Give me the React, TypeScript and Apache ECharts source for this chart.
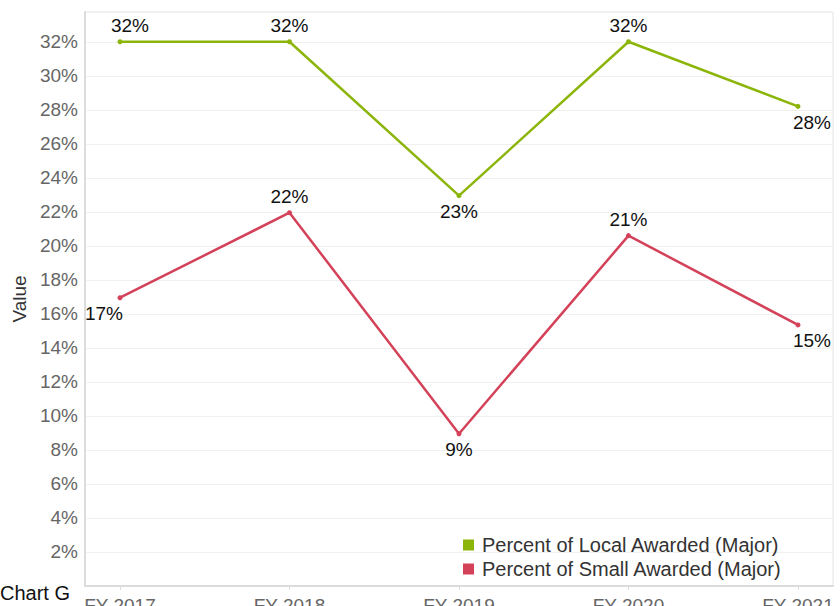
import React, { useEffect, useRef } from "react";
import * as echarts from "echarts";

const categories = ["FY 2017", "FY 2018", "FY 2019", "FY 2020", "FY 2021"];
const localAwarded = [32.0, 32.0, 22.95, 32.0, 28.2];
const smallAwarded = [16.95, 21.95, 8.95, 20.6, 15.35];
const localLabels = ["32%", "32%", "23%", "32%", "28%"];
const smallLabels = ["17%", "22%", "9%", "21%", "15%"];
const localLabelPos = ["top", "top", "bottom", "top", "bottom"];
const smallLabelPos = ["bottom", "top", "bottom", "top", "bottom"];
const localLabelShift = [10, 0, 0, 0, 14];
const smallLabelShift = [-16, 0, 0, 0, 14];

const FONT = "'Liberation Sans', Arial, sans-serif";

function buildData(values: number[], labels: string[], pos: string[], shift: number[]) {
  return values.map((v, i) => ({
    value: [i, v],
    label: {
      show: true,
      position: pos[i],
      distance: 4,
      offset: [shift[i], 0],
      formatter: labels[i],
      fontSize: 19,
      color: "#111",
      fontFamily: FONT,
    },
  }));
}

export default function App() {
  const ref = useRef<HTMLDivElement>(null);
  useEffect(() => {
    document.body.style.margin = "0";
    const chart = echarts.init(ref.current!, null, { renderer: "svg" });
    chart.setOption({
      animation: false,
      backgroundColor: "#fff",
      textStyle: { fontFamily: FONT },
      grid: {
        left: 85,
        right: 7,
        top: 12,
        bottom: 20,
        outerBoundsMode: "none",
        containLabel: false,
        show: true,
        borderColor: "#e4e4e4",
        borderWidth: 1,
      },
      legend: {
        orient: "vertical",
        left: 463,
        top: 535,
        padding: 0,
        icon: "rect",
        itemWidth: 11,
        itemHeight: 11,
        itemGap: 4,
        textStyle: { fontSize: 20, color: "#333", fontFamily: FONT, padding: [0, 0, 0, 3] },
        data: ["Percent of Local Awarded (Major)", "Percent of Small Awarded (Major)"],
      },
      xAxis: {
        type: "value",
        min: -0.2065,
        max: 4.2065,
        splitLine: { show: false },
        axisLine: { show: true, onZero: false, lineStyle: { color: "#dcdcdc", width: 2 } },
        axisTick: {
          show: true,
          customValues: [0, 1, 2, 3, 4],
          length: 4,
          lineStyle: { color: "#dcdcdc" },
        },
        axisLabel: {
          customValues: [0, 1, 2, 3, 4],
          formatter: (v: number) => categories[Math.round(v)],
          fontSize: 19,
          color: "#666",
          margin: 10,
          fontFamily: FONT,
        },
      },
      yAxis: {
        type: "value",
        min: 0,
        max: 33.75,
        interval: 2,
        name: "Value",
        nameLocation: "middle",
        nameRotate: 90,
        nameGap: 55,
        nameTextStyle: { fontSize: 19, color: "#333", fontFamily: FONT },
        axisLine: { show: true, onZero: false, lineStyle: { color: "#dcdcdc", width: 2 } },
        axisTick: { show: false },
        splitLine: { show: true, lineStyle: { color: "#f0f0f0", width: 1 } },
        axisLabel: {
          showMaxLabel: false,
          formatter: (v: number) => (v === 0 || v % 2 !== 0 ? "" : v + "%"),
          fontSize: 19,
          color: "#666",
          margin: 7,
          fontFamily: FONT,
        },
      },
      graphic: [
        {
          type: "text",
          left: 0,
          top: 583,
          style: { text: "Chart G", fontSize: 20, fill: "#111", fontFamily: FONT },
        },
      ],
      series: [
        {
          name: "Percent of Local Awarded (Major)",
          type: "line",
          data: buildData(localAwarded, localLabels, localLabelPos, localLabelShift),
          symbol: "circle",
          symbolSize: 5,
          color: "#8cb50a",
          lineStyle: { width: 2.5, color: "#8cb50a" },
          itemStyle: { color: "#8cb50a" },
        },
        {
          name: "Percent of Small Awarded (Major)",
          type: "line",
          data: buildData(smallAwarded, smallLabels, smallLabelPos, smallLabelShift),
          symbol: "circle",
          symbolSize: 5,
          color: "#d44259",
          lineStyle: { width: 2.5, color: "#d44259" },
          itemStyle: { color: "#d44259" },
        },
      ],
    });
    return () => chart.dispose();
  }, []);
  return <div ref={ref} style={{ width: 840, height: 606 }} />;
}
